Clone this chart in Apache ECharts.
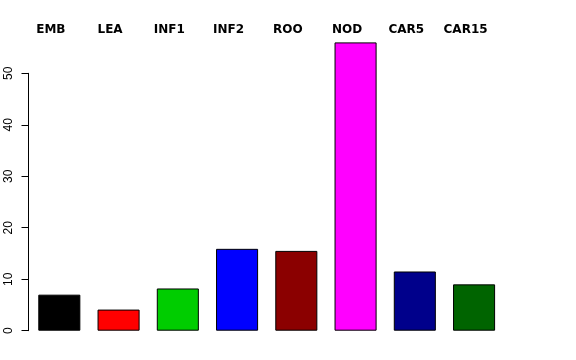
<!DOCTYPE html>
<html>
<head>
<meta charset="utf-8">
<script src="https://cdn.jsdelivr.net/npm/echarts@6/dist/echarts.min.js"></script>
<style>html,body{margin:0;padding:0;background:#fff;}#c{width:576px;height:360px;}</style>
</head>
<body>
<div id="c"></div>
<script>
const categories = ['EMB','LEA','INF1','INF2','ROO','NOD','CAR5','CAR15'];
const values = [7.0, 4.1, 8.2, 15.9, 15.5, 56.0, 11.5, 9.0];
const colors = ['#000000','#FF0000','#00CD00','#0000FF','#8B0000','#FF00FF','#00008B','#006400'];
const yTicks = [0, 10, 20, 30, 40, 50];

const chart = echarts.init(document.getElementById('c'), null, {renderer:'canvas'});
chart.setOption({
  animation: false,
  backgroundColor: '#ffffff',
  grid: [
    {left: 29.7, width: 474, top: 21.8, bottom: 29.3, containLabel: false},
    {left: 28.5, width: 10, top: 73.3, bottom: 29.3, containLabel: false}
  ],
  xAxis: [
    {gridIndex: 0, type: 'category', data: categories, position: 'top', offset: -16,
     axisLine: {show: false}, axisTick: {show: false},
     axisLabel: {margin: 2, fontFamily: 'DejaVu Sans', fontWeight: 'bold', fontSize: 12, color: '#000',
                 padding: [0, 17, 0, 0]}},
    {gridIndex: 1, type: 'value', show: false, min: 0, max: 1}
  ],
  yAxis: [
    {gridIndex: 0, type: 'value', min: 0, max: 60, show: false, splitLine: {show: false}},
    {gridIndex: 1, type: 'value', min: 0, max: yTicks[yTicks.length-1], interval: 10,
     axisLine: {show: true, lineStyle: {color: '#000', width: 1}},
     axisTick: {show: true, length: 7, lineStyle: {color: '#000', width: 1}},
     splitLine: {show: false},
     axisLabel: {rotate: 90, margin: 14, fontFamily: 'Liberation Sans', fontSize: 12, color: '#000'}}
  ],
  series: [{
    type: 'bar', xAxisIndex: 0, yAxisIndex: 0,
    barCategoryGap: '29%',
    data: values.map((v, i) => ({value: v, itemStyle: {color: colors[i]}})),
    itemStyle: {borderColor: '#000', borderWidth: 1}
  }]
});
</script>
</body>
</html>
